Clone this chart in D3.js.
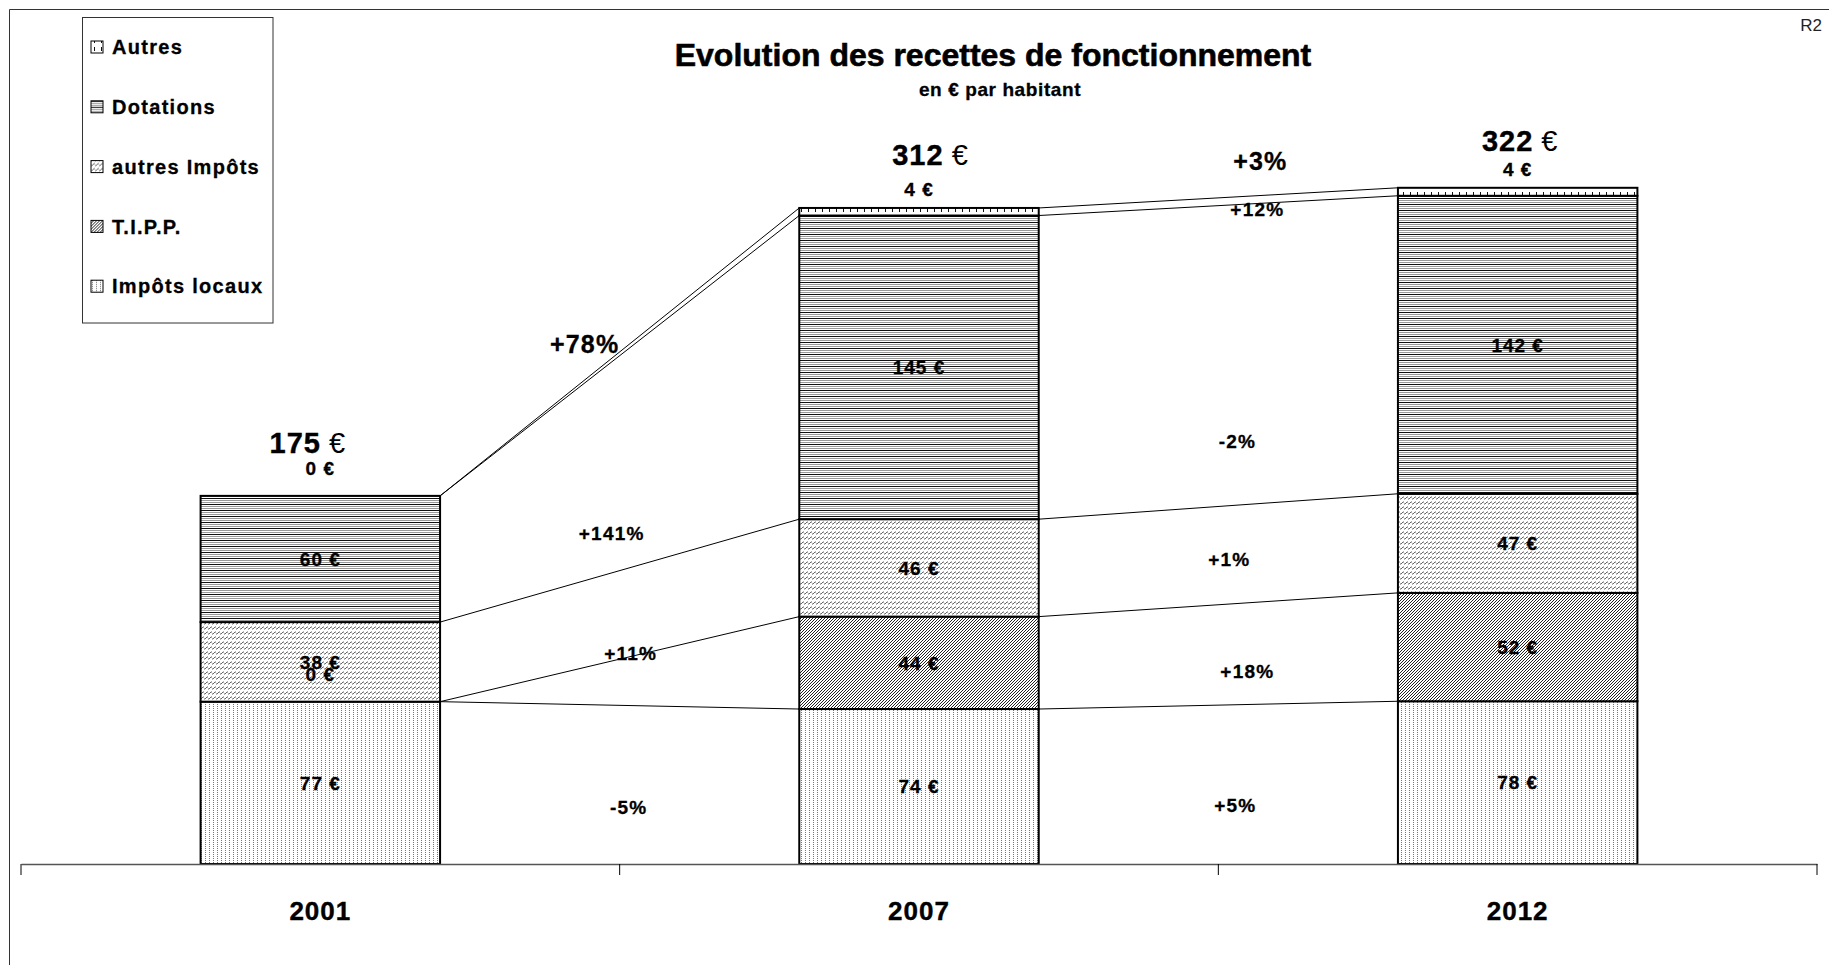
<!DOCTYPE html>
<html>
<head>
<meta charset="utf-8">
<script src="https://cdn.jsdelivr.net/npm/d3@7"></script>
<style>
  body { margin: 0; background: #fff; }
  text { font-family: "Liberation Sans", Arial, sans-serif; }
</style>
</head>
<body>
<div class="graphic"></div>
<script>
const years = ["2001", "2007", "2012"];
const seriesNames = ["Impôts locaux", "T.I.P.P.", "autres Impôts", "Dotations", "Autres"];
const impotsLocaux = [77.3, 73.8, 77.5];
const tipp = [0, 44.0, 51.6];
const autresImpots = [37.9, 46.4, 47.2];
const dotations = [60.1, 144.6, 141.9];
const autres = [0, 3.6, 3.8];
const totals = [175, 312, 322];
const evolLabels1 = ["-5%", "+11%", "+141%", "+78%"];
const evolLabels2 = ["+5%", "+18%", "+1%", "-2%", "+12%", "+3%"];

// where the evolution labels sit: [value on y scale, shift from gap centre]
const evolPos1 = [[27, 9], [100.5, 11], [157.6, -8], [247.6, -35]];
const evolPos2 = [[28, 17], [92, 29], [145, 11], [201.4, 19], [312, 39], [335, 42]];
// hand nudges of the total labels [dx, dy from bar top]
const totalNudge = [[-13, -43], [11, -43], [2, -37]];

let W = 1829, H = 965;
let svg = d3.select(".graphic")
            .append("svg")
            .attr("width", W)
            .attr("height", H);

let rows = years.map((y, i) => ({
    year: y,
    "Impôts locaux": impotsLocaux[i],
    "T.I.P.P.": tipp[i],
    "autres Impôts": autresImpots[i],
    "Dotations": dotations[i],
    "Autres": autres[i]
}));
let stacked = d3.stack().keys(seriesNames)(rows);

let x = d3.scaleBand().domain(years).range([21, 1817]).padding(0);
let y = d3.scaleLinear().domain([0, 350]).range([864, 864 - 350 * 2.1]);
let barW = x.bandwidth() * 0.4;
let barLeft = d => x(d) + (x.bandwidth() - barW) / 2;
let barMid = d => x(d) + x.bandwidth() / 2;

// patterns
let defs = svg.append("defs");
function pattern(id, w, h) {
    let p = defs.append("pattern").attr("id", id)
        .attr("patternUnits", "userSpaceOnUse")
        .attr("width", w).attr("height", h);
    p.append("rect").attr("width", w).attr("height", h).attr("fill", "#fff");
    return p;
}
let p1 = pattern("p-local", 4, 2);
p1.append("rect").attr("x", 1).attr("y", 0).attr("width", 1).attr("height", 1).attr("fill", "#777");

let p2 = pattern("p-tipp", 3, 3);
p2.append("path").attr("d", "M-1,1L1,-1M0,3L3,0M2,4L4,2")
    .attr("stroke", "#222").attr("stroke-width", 1);

let p3 = pattern("p-autimp", 4, 5);
p3.append("path").attr("d", "M0,4L1,4L3,2L4,2")
    .attr("stroke", "#666").attr("stroke-width", 1).attr("fill", "none");

let p4 = pattern("p-dot", 8, 6);
p4.append("rect").attr("y", 0).attr("width", 8).attr("height", 1).attr("fill", "#111");
p4.append("rect").attr("y", 2).attr("width", 8).attr("height", 1).attr("fill", "#999");
p4.append("rect").attr("y", 4).attr("width", 8).attr("height", 1).attr("fill", "#999");

let p5 = pattern("p-autres", 7, 8);
p5.append("rect").attr("x", 3).attr("y", 0).attr("width", 1).attr("height", 4).attr("fill", "#111");

let fills = {
    "Impôts locaux": "url(#p-local)",
    "T.I.P.P.": "url(#p-tipp)",
    "autres Impôts": "url(#p-autimp)",
    "Dotations": "url(#p-dot)",
    "Autres": "url(#p-autres)"
};

// frame
svg.append("path").attr("d", `M9.5,${H}V9.5H${W}`)
    .attr("fill", "none").attr("stroke", "#333").attr("stroke-width", 1);
svg.append("text").attr("x", 1822).attr("y", 31).attr("text-anchor", "end")
    .attr("font-size", 17).attr("fill", "#222").text("R2");

// title
svg.append("text").attr("x", 993).attr("y", 66).attr("text-anchor", "middle")
    .attr("font-size", 32).attr("font-weight", "bold")
    .attr("stroke", "#000").attr("stroke-width", 0.6)
    .text("Evolution des recettes de fonctionnement");
svg.append("text").attr("x", 1000).attr("y", 96).attr("text-anchor", "middle")
    .attr("font-size", 19).attr("font-weight", "bold").attr("letter-spacing", 0.6)
    .attr("stroke", "#000").attr("stroke-width", 0.3)
    .text("en € par habitant");

// bars
let layers = svg.append("g").selectAll("g").data(stacked).join("g")
    .attr("fill", d => fills[d.key]);
layers.selectAll("rect").data(d => d).join("rect")
    .attr("x", d => barLeft(d.data.year))
    .attr("width", barW)
    .attr("y", d => y(d[1]))
    .attr("height", d => y(d[0]) - y(d[1]))
    .attr("stroke", "#000")
    .attr("stroke-width", 2);

// connecting lines between bars
let links = [];
stacked.forEach(s => {
    for (let i = 0; i < years.length - 1; i++) {
        links.push({
            x1: barLeft(years[i]) + barW, y1: y(s[i][1]),
            x2: barLeft(years[i + 1]), y2: y(s[i + 1][1])
        });
    }
});
svg.append("g").selectAll("line").data(links).join("line")
    .attr("x1", d => d.x1).attr("y1", d => d.y1)
    .attr("x2", d => d.x2).attr("y2", d => d.y2)
    .attr("stroke", "#000").attr("stroke-width", 1);

// value labels (tiny slices get their label lifted above the slice)
let vlabels = [];
stacked.forEach(s => s.forEach(d => {
    let v = d[1] - d[0];
    let cy = v < 5 ? y(d[1]) - 28 + 2.5 * v : (y(d[0]) + y(d[1])) / 2;
    vlabels.push({ x: barMid(d.data.year), y: cy, t: Math.round(v) + " €" });
}));
svg.append("g").selectAll("text").data(vlabels).join("text")
    .attr("x", d => d.x).attr("y", d => d.y).attr("dy", "0.36em")
    .attr("text-anchor", "middle")
    .attr("font-size", 19).attr("font-weight", "bold").attr("letter-spacing", 1)
    .attr("stroke", "#000").attr("stroke-width", 0.3)
    .text(d => d.t);

// totals
let topLayer = stacked[stacked.length - 1];
let tot = svg.append("g").selectAll("text").data(years).join("text")
    .attr("x", (d, i) => barMid(d) + totalNudge[i][0])
    .attr("y", (d, i) => y(topLayer[i][1]) + totalNudge[i][1])
    .attr("text-anchor", "middle")
    .attr("font-size", 29);
tot.append("tspan").attr("font-weight", "bold").attr("letter-spacing", 1)
    .attr("stroke", "#000").attr("stroke-width", 0.4)
    .text((d, i) => totals[i]);
tot.append("tspan").text(" €");

// evolution percentages
function evol(labels, pos, i) {
    let cx = (barLeft(years[i]) + barW + barLeft(years[i + 1])) / 2;
    svg.append("g").selectAll("text").data(labels).join("text")
        .attr("x", (d, k) => cx + pos[k][1])
        .attr("y", (d, k) => y(pos[k][0]))
        .attr("dy", "0.36em")
        .attr("text-anchor", "middle")
        .attr("font-weight", "bold")
        .attr("font-size", (d, k) => k === labels.length - 1 ? 25 : 19)
        .attr("letter-spacing", 1.2)
        .attr("stroke", "#000").attr("stroke-width", 0.3)
        .text(d => d);
}
evol(evolLabels1, evolPos1, 0);
evol(evolLabels2, evolPos2, 1);

// axis
let axis = svg.append("g").attr("transform", "translate(0,864)")
    .call(d3.axisBottom(x).tickSizeInner(0).tickSizeOuter(0).tickPadding(38));
axis.select(".domain").attr("stroke", "#555").attr("stroke-width", 1.5);
axis.selectAll("text").attr("font-size", 26).attr("font-weight", "bold")
    .attr("letter-spacing", 1).attr("fill", "#000")
    .attr("stroke", "#000").attr("stroke-width", 0.4)
    .attr("font-family", "'Liberation Sans', Arial, sans-serif");
axis.selectAll(".bound").data(d3.range(years.length + 1)).join("line")
    .attr("class", "bound")
    .attr("x1", i => 21 + i * x.step()).attr("x2", i => 21 + i * x.step())
    .attr("y1", 0).attr("y2", 11)
    .attr("stroke", "#000").attr("stroke-width", 1);

// legend
let legend = svg.append("g");
legend.append("rect").attr("x", 82.5).attr("y", 17.5).attr("width", 190.5).attr("height", 305.5)
    .attr("fill", "#fff").attr("stroke", "#333").attr("stroke-width", 1);
let legendOrder = seriesNames.slice().reverse();
let li = legend.selectAll(".item").data(legendOrder).join("g")
    .attr("class", "item")
    .attr("transform", (d, i) => `translate(91,${47 + i * 59.8})`);
li.append("rect").attr("x", 0).attr("y", -6).attr("width", 12).attr("height", 12)
    .attr("fill", d => fills[d]).attr("stroke", "#000").attr("stroke-width", 1);
li.append("text").attr("x", 21).attr("dy", "0.36em")
    .attr("font-size", 20).attr("font-weight", "bold").attr("letter-spacing", 1.3)
    .attr("stroke", "#000").attr("stroke-width", 0.3)
    .text(d => d);
</script>
</body>
</html>
